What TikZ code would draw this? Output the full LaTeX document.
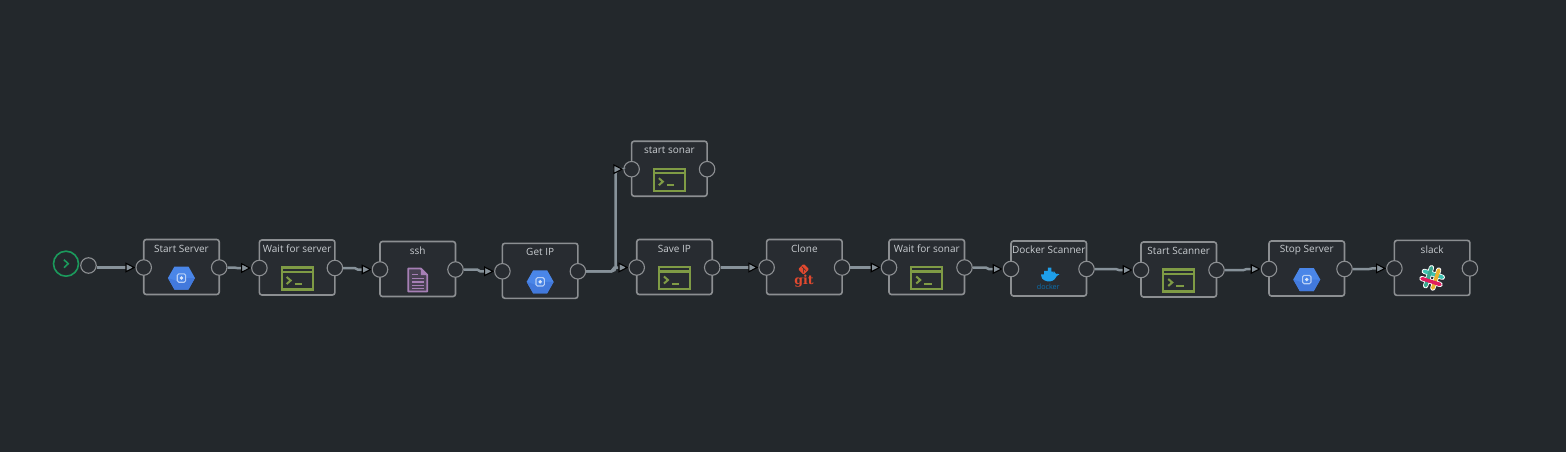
\documentclass[tikz,border=0pt]{standalone}
\usepackage{fontspec}
\setmainfont{Open Sans}
\newfontfamily\slabfont{DejaVu Serif}
\usetikzlibrary{arrows.meta,calc}
\definecolor{bgc}{HTML}{23282C}
\definecolor{boxc}{HTML}{282C31}
\definecolor{edgec}{HTML}{8C8F92}
\definecolor{wirec}{HTML}{87929A}
\definecolor{labelc}{HTML}{C8CCD0}
\definecolor{termc}{HTML}{7F9B45}
\definecolor{hexc}{HTML}{4A86E8}
\definecolor{hexd}{HTML}{4279DC}
\definecolor{docc}{HTML}{A67FB5}
\definecolor{gitc}{HTML}{E2492F}
\definecolor{dockc}{HTML}{1E9FEA}
\definecolor{dockt}{HTML}{0B6FAE}
\definecolor{startc}{HTML}{1B9A5C}
\definecolor{HTMLteal}{HTML}{3CC2B0}
\definecolor{HTMLgreen}{HTML}{3AA88F}
\definecolor{HTMLyellow}{HTML}{E9B22F}
\definecolor{HTMLpink}{HTML}{DF1E5F}
\tikzset{
  x=1pt,y=-1pt,
  stepbox/.style={draw=edgec,fill=boxc,line width=1.6pt,rounded corners=2.5pt,minimum width=75.5pt,minimum height=55pt,inner sep=0pt},
  portdot/.style={circle,draw=edgec,fill=boxc,line width=1.1pt,minimum size=15.5pt,inner sep=0pt},
  steplabel/.style={text=labelc,font=\fontsize{10}{12}\selectfont,inner sep=0pt},
  wire/.style={draw=wirec,line width=2.5pt,-{Triangle[length=10pt,width=10pt,color=black,fill=wirec,line width=1.1pt]}},
  termline/.style={draw=termc,line width=2.2pt},
}
\newcommand{\iconterm}{%
  \draw[termline] (-15.5,-11) rectangle (15.5,11);
  \draw[termline] (-15.5,-6.5) -- (15.5,-6.5);
  \draw[termc,line width=2pt] (-10.5,-1.5) -- (-6.5,2) -- (-10.5,5.5);
  \draw[termc,line width=2pt] (-2.5,5.5) -- (5,5.5);
}
\newcommand{\iconhex}{%
  \fill[hexc] (-13.5,0) -- (-7,-11.5) -- (7,-11.5) -- (13.5,0) -- (7,11.5) -- (-7,11.5) -- cycle;
  \fill[hexd] (-13.5,0) -- (-7,11.5) -- (7,11.5) -- (13.5,0) -- (5,0) -- (0,4.5) -- cycle;
  \draw[white!60!hexc,line width=1.1pt,rounded corners=1.5pt] (-4.2,-4.2) rectangle (4.2,4.2);
  \fill[white!80!hexc] (0,0) circle (1.9pt);
}
\newcommand{\icondoc}{%
  \draw[docc,line width=1.8pt,line join=round,fill=docc!25!boxc] (-9.5,-11.5) -- (3,-11.5) -- (9.5,-5) -- (9.5,11.5) -- (-9.5,11.5) -- cycle;
  \fill[docc] (3,-11.5) -- (9.5,-5) -- (3,-5) -- cycle;
  \draw[docc,line width=1.4pt] (-5.5,-5.5) -- (0,-5.5) (-5.5,-1.5) -- (6,-1.5) (-5.5,2) -- (6,2) (-5.5,5.5) -- (6,5.5) (-5.5,8.6) -- (6,8.6);
}
\newcommand{\icongit}{%
  \fill[gitc,rounded corners=1pt] (-.7,-14.2) -- (4.7,-8.7) -- (-.7,-3.2) -- (-6.2,-8.7) -- cycle;
  \draw[boxc,line width=.5pt] (-2.5,-11.5) -- (-.7,-9.5) -- (-.7,-5.5) (-.7,-9.5) -- (1.5,-7.5);
  \node[text=gitc,font=\slabfont\fontsize{12.5}{13}\selectfont\bfseries,inner sep=0pt] (gitword) at (-.3,3.5) {git};
}
\newcommand{\icondocker}{%
  \begin{scope}[shift={(.5,-3.2)},xscale=.85,yscale=.78]
  \fill[dockc] (-9.5,-1) .. controls (-9.5,5) and (-3,7) .. (1,6.5)
     .. controls (5,6) and (8,2.5) .. (9,-.5)
     .. controls (10.5,-.5) and (11.5,-1.5) .. (12,-2.5)
     .. controls (10.5,-3.5) and (9,-3.5) .. (8,-3)
     .. controls (7.5,-5) and (6.5,-6) .. (5.5,-6.5)
     .. controls (4.5,-5.5) and (4.3,-3.5) .. (4.5,-2.5)
     -- (4.5,-6) -- (2.5,-6) -- (2.5,-11) -- (-1.5,-11) -- (-1.5,-7) -- (-6,-7) -- (-6,-2.5) -- (-9.5,-2.5) -- cycle;
  \end{scope}
  \node[text=dockt,font=\fontsize{7.2}{8}\selectfont,inner sep=0pt] (dockerword) at (-.5,7) {docker};
}
\newcommand{\iconslack}{%
  \begin{scope}[shift={(0,-1)},rotate=-18,line cap=round]
    \draw[white,line width=5.2pt] (-3.8,-9.5) -- (-3.8,9.5) (3.8,-9.5) -- (3.8,9.5) (-9.5,-3.8) -- (9.5,-3.8) (-9.5,3.8) -- (9.5,3.8);
    \draw[HTMLteal,line width=3.6pt] (-9.5,-3.8) -- (9.5,-3.8);
    \draw[HTMLgreen,line width=3.6pt] (-3.8,-9.5) -- (-3.8,9.5);
    \draw[HTMLyellow,line width=3.6pt] (3.8,-9.5) -- (3.8,9.5);
    \draw[HTMLpink,line width=3.6pt] (-9.5,3.8) -- (9.5,3.8);
  \end{scope}
}
% id, label, left, top, icon
\newcommand{\flowstep}[5]{%
  \begin{scope}[shift={(#3,#4)}]
    \node[stepbox] (#1) at (37.75,27.5) {};
    \node[steplabel] (#1-label) at (37.75,9) {#2};
    \begin{scope}[shift={(37.75,38.5)}]#5\end{scope}
    \node[portdot] (#1-in) at (0,28) {};
    \node[portdot] (#1-out) at (75.5,28) {};
  \end{scope}
}
% from-port, to-port, distance of the small step ahead of the arrow
\newcommand{\flowwire}[3]{%
  \coordinate (#2-kb) at ($(#2.west)+(-#3,0)$);
  \coordinate (#2-ka) at ($(#2.west)+(-#3-3,0)$);
  \draw[wire] (#1.east) -- (#2-ka |- #1.east) -- (#2-kb) -- (#2.west);
}
\begin{document}
\begin{tikzpicture}
\fill[bgc] (0,0) rectangle (1566,452);
\useasboundingbox (0,0) rectangle (1566,452);
\node[circle,draw=startc,line width=1.6pt,minimum size=25pt,inner sep=0pt] (start) at (66,263.7) {};
\draw[startc,line width=1.6pt] ($(start)+(-2,-4)$) -- ($(start)+(2.2,0)$) -- ($(start)+(-2,4)$);
\node[portdot] (start-out) at (88.5,265.5) {};
\flowstep{a}{Start Server}{143.7}{239.5}{\iconhex}
\flowstep{b}{Wait for server}{259.4}{240}{\iconterm}
\flowstep{c}{ssh}{380}{241.5}{\icondoc}
\flowstep{d}{Get IP}{502.4}{243.3}{\iconhex}
\flowstep{e}{start sonar}{631.6}{141.2}{\iconterm}
\flowstep{f}{Save IP}{636.7}{239.5}{\iconterm}
\flowstep{g}{Clone}{766.6}{239.5}{\icongit}
\flowstep{h}{Wait for sonar}{889}{239.5}{\iconterm}
\flowstep{i}{Docker Scanner}{1011}{241}{\icondocker}
\flowstep{j}{Start Scanner}{1141}{242}{\iconterm}
\flowstep{k}{Stop Server}{1269}{241}{\iconhex}
\flowstep{l}{slack}{1394.4}{240.4}{\iconslack}
\coordinate (fork) at (615.7,220);
\draw[wire] (start-out.east |- a-in.west) -- (a-in.west);
\flowwire{a-out}{b-in}{14}
\flowwire{b-out}{c-in}{14}
\flowwire{c-out}{d-in}{14}
\draw[wire,rounded corners=4pt] (d-out.east) -| (fork) |- (e-in.west);
\flowwire{d-out}{f-in}{14}
\flowwire{f-out}{g-in}{14}
\flowwire{g-out}{h-in}{14}
\flowwire{h-out}{i-in}{14}
\flowwire{i-out}{j-in}{14}
\flowwire{j-out}{k-in}{14}
\flowwire{k-out}{l-in}{14}
\end{tikzpicture}
\end{document}
